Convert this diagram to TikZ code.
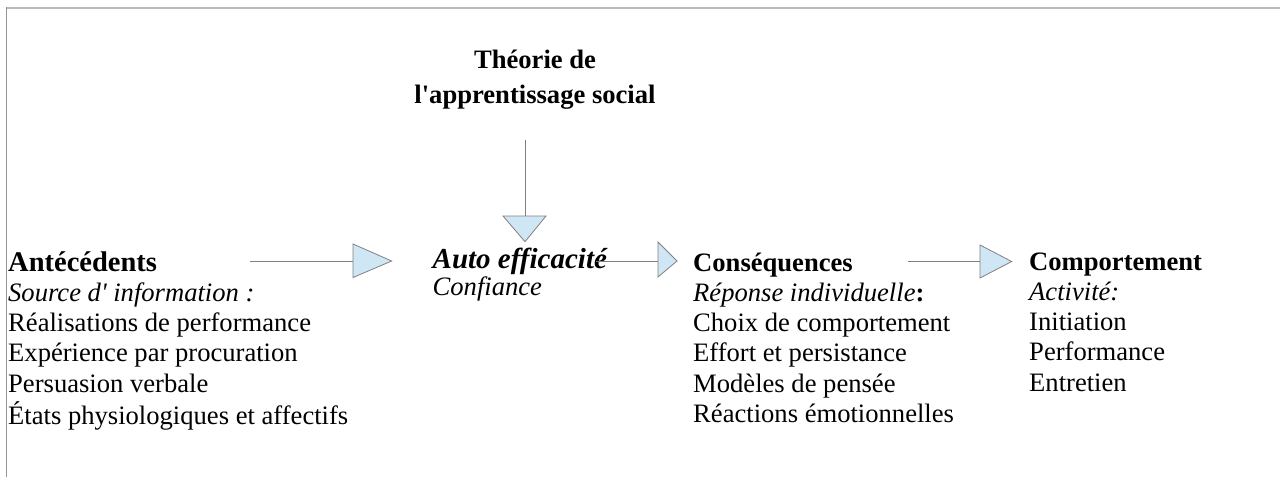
\documentclass[tikz,border=0pt]{standalone}
\usepackage{fontspec}
\setmainfont{Liberation Serif}[Ligatures=TeXOff]
\usetikzlibrary{calc}
\definecolor{tri}{HTML}{CFE7F5}
\definecolor{lin}{HTML}{808080}
\definecolor{frm}{HTML}{BBBBBB}
\begin{document}
\begin{tikzpicture}[x=1pt,y=-1pt,
  txt/.style={inner sep=0pt,anchor=base west,font=\fontsize{26.6}{30.3}\selectfont},
  conn/.style={draw=lin,line width=1pt},
  head/.style={draw=lin,line width=0.8pt,fill=tri,line join=miter}]
\useasboundingbox (0,0) rectangle (1280,477);
% frame
\draw[frm,line width=2pt] (6,7.5) -- (1280,7.5);
\draw[frm!80!black,line width=1.5pt] (6.5,7) -- (6.5,477);
% title (base anchor = baseline of last line)
\node[inner sep=0pt,anchor=base,align=center,font=\fontsize{26.6}{35}\selectfont\bfseries] (theo) at (535,103) {Théorie de\\l'apprentissage social};
% blocks
\newcommand\rowsA{\renewcommand\arraystretch{1}}
\node[txt] (ante) at (8,271) {\rowsA\begin{tabular}[t]{@{}l@{}}
{\fontsize{28.5}{30.3}\selectfont\bfseries Antécédents}\\
\textit{Source d' information :}\\
Réalisations de performance\\
Expérience par procuration\\
Persuasion verbale\\
États physiologiques et affectifs
\end{tabular}};
\node[txt,font=\fontsize{26.6}{27}\selectfont] (auto) at (432.5,268.5) {\rowsA\begin{tabular}[t]{@{}l@{}}
{\fontsize{29}{27}\selectfont\bfseries\itshape Auto efficacité}\\
\textit{Confiance}
\end{tabular}};
\node[txt] (cons) at (693,271) {\rowsA\begin{tabular}[t]{@{}l@{}}
\textbf{Conséquences}\\
\textit{Réponse individuelle}\textbf{:}\\
Choix de comportement\\
Effort et persistance\\
Modèles de pensée\\
Réactions émotionnelles
\end{tabular}};
\node[txt] (comp) at (1029,270) {\rowsA\begin{tabular}[t]{@{}l@{}}
\textbf{Comportement}\\
\textit{Activité:}\\
Initiation\\
Performance\\
Entretien
\end{tabular}};
% connector coordinates
\coordinate (a1s) at (250,261);   \coordinate (a1e) at (353,261);
\coordinate (a2s) at (596,261);   \coordinate (a2e) at (658,261);
\coordinate (a3s) at (908,261.5); \coordinate (a3e) at (980,261.5);
\coordinate (v1s) at (525,140);   \coordinate (v1e) at (525,216);
% connectors
\draw[conn] (a1s) -- (a1e);
\draw[head] ($(a1e)+(0,-17)$) -- ($(a1e)+(38.7,0)$) -- ($(a1e)+(0,16.5)$) -- cycle;
\draw[conn] (a2s) -- (a2e);
\draw[head] ($(a2e)+(0,-19)$) -- ($(a2e)+(19,0)$) -- ($(a2e)+(0,16)$) -- cycle;
\draw[conn] (a3s) -- (a3e);
\draw[head] ($(a3e)+(0,-16.5)$) -- ($(a3e)+(31.7,0)$) -- ($(a3e)+(0,16.5)$) -- cycle;
\draw[conn] (v1s) -- (v1e);
\draw[head] ($(v1e)+(-22,0)$) -- ($(v1e)+(21,0)$) -- ($(v1e)+(0,25.7)$) -- cycle;
\end{tikzpicture}
\end{document}
